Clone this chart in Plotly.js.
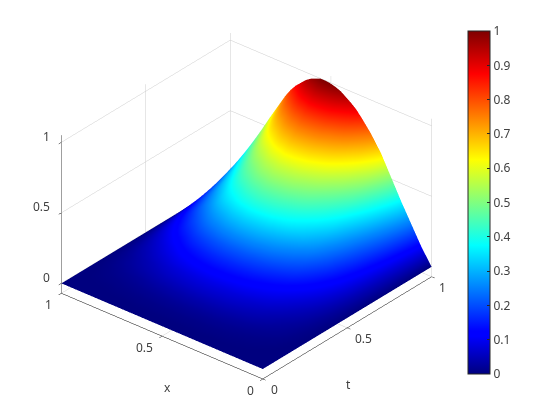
<!DOCTYPE html>
<html>
<head>
<meta charset="utf-8">
<script src="https://cdn.plot.ly/plotly-3.0.1.min.js"></script>
<style>html,body{margin:0;padding:0;background:#fff}</style>
</head>
<body>
<div id="surfchart" style="width:560px;height:420px"></div>
<script>
let x_vals=[0,.05,.1,.15,.2,.25,.3,.35,.375,.4,.425,.45,.475,.5,.525,.55,.575,.6,.625,.65,.675,.7,.725,.75,.8,.85,.9,.95,1];
let t_vals=[0,.05,.1,.15,.2,.25,.3,.35,.4,.45,.5,.55,.6,.65,.7,.75,.8,.85,.9,.95,1];
let tick_vals=[0,.5,1];
let tick_text=['0','0.5','1'];
let bar_vals=[0,.1,.2,.3,.4,.5,.6,.7,.8,.9,1];
let bar_text=['0','0.1','0.2','0.3','0.4','0.5','0.6','0.7','0.8','0.9','1'];
// one row per x, one column per t
let z_rows=[
[0,0,0,0,0,0,0,0,0,0,0,0,0,0,0,0,0,0,0,0,0],
[0,0,.001,.002,.004,.007,.01,.014,.018,.024,.03,.037,.044,.05,.057,.063,.071,.08,.089,.1,.11],
[0,.001,.002,.005,.01,.016,.022,.03,.04,.052,.066,.08,.096,.109,.124,.138,.155,.174,.194,.217,.24],
[0,.001,.004,.008,.015,.024,.033,.046,.061,.08,.102,.124,.148,.168,.191,.213,.239,.268,.3,.335,.37],
[0,.002,.005,.011,.02,.033,.046,.064,.084,.11,.14,.171,.204,.232,.263,.293,.329,.37,.413,.462,.51],
[0,.002,.007,.014,.026,.042,.059,.081,.107,.14,.179,.218,.26,.296,.335,.374,.419,.471,.527,.588,.65],
[0,.002,.008,.017,.03,.049,.068,.095,.125,.163,.209,.255,.304,.346,.391,.437,.49,.551,.616,.688,.76],
[0,.003,.009,.019,.034,.055,.077,.106,.14,.183,.234,.285,.34,.387,.438,.489,.548,.616,.689,.769,.85],
[0,.003,.009,.02,.036,.058,.08,.111,.147,.191,.245,.298,.356,.405,.458,.512,.574,.645,.721,.805,.89],
[0,.003,.009,.02,.037,.06,.083,.115,.152,.198,.253,.308,.368,.419,.474,.529,.593,.667,.745,.833,.92],
[0,.003,.009,.021,.038,.061,.085,.118,.156,.203,.26,.317,.378,.43,.487,.543,.61,.685,.765,.855,.945],
[0,.003,.01,.021,.039,.063,.087,.121,.16,.209,.267,.325,.388,.441,.5,.558,.626,.703,.786,.878,.97],
[0,.003,.01,.022,.039,.064,.089,.123,.163,.212,.271,.33,.394,.448,.507,.566,.635,.714,.798,.891,.985],
[0,.003,.01,.022,.04,.065,.09,.124,.164,.214,.274,.333,.398,.453,.512,.572,.642,.721,.806,.9,.995],
[0,.003,.01,.022,.04,.065,.09,.125,.165,.215,.275,.335,.4,.455,.515,.575,.645,.725,.81,.905,1],
[0,.003,.01,.022,.04,.065,.09,.125,.165,.215,.275,.335,.4,.455,.515,.575,.645,.725,.81,.905,1],
[0,.003,.01,.022,.039,.064,.089,.123,.163,.212,.271,.33,.394,.448,.507,.566,.635,.714,.798,.891,.985],
[0,.003,.01,.021,.039,.063,.087,.121,.16,.209,.267,.325,.388,.441,.5,.558,.626,.703,.786,.878,.97],
[0,.003,.009,.021,.038,.061,.085,.118,.156,.203,.26,.317,.378,.43,.487,.543,.61,.685,.765,.855,.945],
[0,.003,.009,.02,.036,.059,.082,.114,.15,.196,.25,.305,.364,.414,.469,.523,.587,.66,.737,.824,.91],
[0,.003,.009,.019,.035,.057,.079,.109,.144,.188,.241,.293,.35,.398,.451,.503,.564,.634,.709,.792,.875],
[0,.002,.008,.018,.033,.054,.075,.104,.137,.178,.228,.278,.332,.378,.427,.477,.535,.602,.672,.751,.83],
[0,.002,.008,.017,.031,.05,.07,.097,.128,.167,.213,.26,.31,.353,.399,.446,.5,.562,.628,.701,.775],
[0,.002,.007,.016,.028,.046,.064,.089,.117,.153,.195,.238,.284,.323,.366,.408,.458,.515,.575,.643,.71],
[0,.002,.006,.013,.023,.038,.052,.073,.096,.125,.16,.194,.232,.264,.299,.334,.374,.42,.47,.525,.58],
[0,.001,.004,.01,.018,.029,.04,.055,.073,.095,.121,.147,.176,.2,.227,.253,.284,.319,.356,.398,.44],
[0,.001,.003,.007,.012,.02,.027,.038,.05,.065,.083,.101,.12,.137,.155,.173,.194,.218,.243,.272,.3],
[0,0,.002,.003,.006,.01,.014,.019,.025,.032,.041,.05,.06,.068,.077,.086,.097,.109,.122,.136,.15],
[0,0,0,0,0,0,0,0,0,0,0,0,0,0,0,0,0,0,0,0,0]
];
let jet=[[0,'#00007f'],[.11,'#0000ff'],[.125,'#0000ff'],[.375,'#00ffff'],[.625,'#ffff00'],[.875,'#ff0000'],[1,'#7f0000']];
let z_bottom=-.07;
let z_top=1.05;

let axis_font={family:'"Noto Sans", "Open Sans", sans-serif',size:12,color:'#404040'};

function sceneAxis(range){
  return {
    title:{text:''},
    range:range,
    tickvals:tick_vals,
    ticktext:tick_text,
    showticklabels:false,
    ticks:'outside',
    ticklen:4,
    tickcolor:'#000',
    showline:true,
    linecolor:'#000',
    linewidth:1,
    showgrid:true,
    gridcolor:'#cccccc',
    gridwidth:1,
    zeroline:false,
    showbackground:false,
    showspikes:false
  };
}

// tick labels and axis titles, the native ones sit too close and rotate
let notes=[];
function note(x,y,z,text,anchor,dx,dy){
  notes.push({x:x,y:y,z:z,text:text,showarrow:false,font:axis_font,xanchor:anchor,yanchor:'middle',xshift:dx,yshift:dy});
}
for (let i=0;i<tick_vals.length;i++){
  note(0,tick_vals[i],z_bottom,tick_text[i],'right',-7,-12);   // x axis
  note(tick_vals[i],0,z_bottom,tick_text[i],'left',6,-11);     // t axis
  note(0,1,tick_vals[i],tick_text[i],'right',-9,6);            // z axis
}
note(0,.5,z_bottom,'x','center',6,-52);
note(.5,0,z_bottom,'t','center',1,-57);

let re=[{
  type:'surface',
  x:t_vals,
  y:x_vals,
  z:z_rows,
  cmin:0,
  cmax:1,
  colorscale:jet,
  hoverinfo:'skip',
  lighting:{ambient:1,diffuse:0,specular:0,fresnel:0,roughness:1},
  colorbar:{
    x:467.5/560,xanchor:'left',xpad:0,
    y:1-31/420,yanchor:'top',ypad:0,
    lenmode:'fraction',len:343/420,
    thickness:22,
    outlinecolor:'#262626',outlinewidth:1,
    tickvals:bar_vals,
    ticktext:bar_text,
    ticks:'inside',
    ticklen:3,
    tickcolor:'#262626',
    tickfont:axis_font
  }
}];
let layout={
  width:560,height:420,
  margin:{l:0,r:0,t:0,b:0},
  paper_bgcolor:'#fff',
  showlegend:false,
  scene:{
    domain:{x:[0,.88],y:[.02,1]},
    aspectmode:'manual',
    aspectratio:{x:1.276,y:1.276,z:.89},
    xaxis:sceneAxis([0,1]),
    yaxis:sceneAxis([0,1]),
    zaxis:sceneAxis([z_bottom,z_top]),
    annotations:notes,
    camera:{
      projection:{type:'orthographic'},
      eye:{x:-1.034,y:-.867,z:.795},
      center:{x:0,y:0,z:0},
      up:{x:0,y:0,z:1}
    }
  }
};
Plotly.newPlot('surfchart',re,layout,{displayModeBar:false});
</script>
</body>
</html>
